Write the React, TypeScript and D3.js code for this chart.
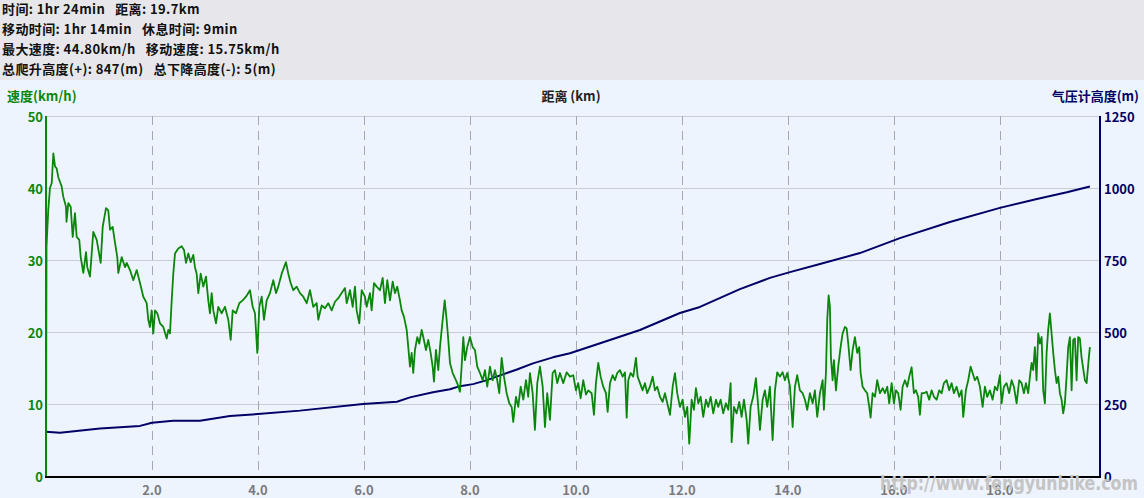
import React from 'react';
import * as d3 from 'd3';

// summary lines shown in the grey header band
const summaryLines = [
  '时间: 1hr 24min   距离: 19.7km',
  '移动时间: 1hr 14min   休息时间: 9min',
  '最大速度: 44.80km/h   移动速度: 15.75km/h',
  '总爬升高度(+): 847(m)   总下降高度(-): 5(m)',
];

// speed trace, km -> km/h
const speedKm = [
  0, 0.01, 0.043, 0.075, 0.108, 0.138, 0.17, 0.202, 0.232, 0.296, 0.326, 0.377, 0.387, 0.421, 0.466, 0.504, 0.547, 0.579, 0.628, 0.655,
  0.704, 0.755, 0.779, 0.83, 0.892, 0.957, 1.032, 1.07, 1.132, 1.175, 1.208, 1.258, 1.302, 1.345, 1.364, 1.428, 1.491, 1.523, 1.585, 1.647,
  1.711, 1.774, 1.836, 1.9, 1.93, 1.962, 1.994, 2.025, 2.057, 2.1, 2.151, 2.213, 2.277, 2.308, 2.34, 2.372, 2.402, 2.434, 2.496, 2.56,
  2.604, 2.642, 2.685, 2.73, 2.779, 2.811, 2.843, 2.874, 2.919, 2.968, 3.019, 3.062, 3.094, 3.126, 3.157, 3.208, 3.251, 3.315, 3.377, 3.44,
  3.485, 3.523, 3.585, 3.647, 3.711, 3.774, 3.849, 3.9, 3.943, 3.987, 4.025, 4.07, 4.113, 4.164, 4.226, 4.289, 4.34, 4.383, 4.447, 4.528,
  4.572, 4.617, 4.666, 4.73, 4.792, 4.855, 4.919, 4.981, 5.043, 5.108, 5.138, 5.202, 5.264, 5.326, 5.391, 5.453, 5.515, 5.579, 5.642, 5.674,
  5.736, 5.787, 5.83, 5.862, 5.911, 5.957, 6.019, 6.051, 6.113, 6.145, 6.189, 6.24, 6.302, 6.353, 6.396, 6.44, 6.491, 6.542, 6.585, 6.628,
  6.679, 6.711, 6.755, 6.806, 6.836, 6.868, 6.9, 6.93, 6.962, 7.006, 7.043, 7.089, 7.119, 7.17, 7.213, 7.258, 7.296, 7.321, 7.358, 7.402,
  7.434, 7.485, 7.523, 7.56, 7.591, 7.623, 7.674, 7.717, 7.76, 7.811, 7.843, 7.874, 7.906, 7.949, 8.0, 8.051, 8.094, 8.138, 8.189, 8.24,
  8.283, 8.326, 8.377, 8.428, 8.472, 8.515, 8.553, 8.598, 8.642, 8.692, 8.742, 8.787, 8.817, 8.868, 8.911, 8.957, 9.006, 9.057, 9.1, 9.132,
  9.183, 9.226, 9.27, 9.321, 9.372, 9.415, 9.458, 9.509, 9.56, 9.604, 9.647, 9.698, 9.76, 9.825, 9.887, 9.949, 10.0, 10.043, 10.089, 10.138,
  10.189, 10.232, 10.296, 10.34, 10.377, 10.421, 10.466, 10.515, 10.566, 10.598, 10.642, 10.692, 10.736, 10.779, 10.83, 10.881, 10.925, 10.957, 10.987, 11.032,
  11.081, 11.132, 11.164, 11.208, 11.258, 11.302, 11.345, 11.396, 11.447, 11.491, 11.534, 11.585, 11.636, 11.679, 11.723, 11.774, 11.825, 11.868, 11.911, 11.962,
  12.013, 12.057, 12.1, 12.138, 12.183, 12.226, 12.264, 12.308, 12.353, 12.402, 12.453, 12.496, 12.542, 12.591, 12.642, 12.685, 12.73, 12.779, 12.83, 12.874,
  12.919, 12.938, 12.981, 13.032, 13.081, 13.126, 13.17, 13.221, 13.251, 13.296, 13.345, 13.396, 13.44, 13.472, 13.523, 13.566, 13.609, 13.66, 13.711, 13.755,
  13.798, 13.849, 13.9, 13.943, 13.987, 14.038, 14.089, 14.132, 14.175, 14.226, 14.277, 14.321, 14.364, 14.415, 14.466, 14.509, 14.553, 14.604, 14.655, 14.679,
  14.717, 14.742, 14.768, 14.792, 14.811, 14.843, 14.868, 14.906, 14.949, 14.994, 15.032, 15.075, 15.108, 15.138, 15.183, 15.221, 15.264, 15.308, 15.345, 15.372,
  15.409, 15.453, 15.496, 15.534, 15.56, 15.598, 15.642, 15.685, 15.736, 15.787, 15.83, 15.874, 15.911, 15.957, 16.0, 16.038, 16.081, 16.126, 16.164, 16.208,
  16.251, 16.289, 16.334, 16.377, 16.415, 16.458, 16.491, 16.523, 16.566, 16.617, 16.666, 16.711, 16.755, 16.806, 16.855, 16.9, 16.943, 16.994, 17.043, 17.089,
  17.132, 17.183, 17.232, 17.277, 17.308, 17.358, 17.402, 17.447, 17.485, 17.528, 17.572, 17.623, 17.674, 17.717, 17.76, 17.811, 17.862, 17.906, 17.949, 18.0,
  18.032, 18.075, 18.126, 18.175, 18.221, 18.264, 18.315, 18.364, 18.409, 18.453, 18.491, 18.534, 18.566, 18.598, 18.628, 18.66, 18.691, 18.723, 18.755, 18.787,
  18.817, 18.849, 18.881, 18.911, 18.943, 18.975, 19.006, 19.038, 19.07, 19.1, 19.132, 19.164, 19.194, 19.226, 19.258, 19.289, 19.321, 19.353, 19.383, 19.415,
  19.447, 19.477, 19.509, 19.54, 19.566, 19.604, 19.636, 19.679, 19.698,
];
const speedKmh = [
  0, 31.9, 37, 40, 40.7, 44.8, 43, 42.7, 41.5, 40.2, 38.8, 37.4, 35.3, 37.9, 37.4, 33.2, 36.5, 33.2, 32.8, 30.4,
  28.2, 31.1, 29, 27.7, 33.9, 32.8, 29.6, 34.6, 37.2, 36.9, 34.2, 34.6, 32.4, 30.4, 28.2, 30.4, 29, 29.6, 28.6, 27.2,
  28.6, 26.8, 24.9, 24, 21.7, 20.7, 23, 19.8, 23, 22.6, 21.2, 20.7, 19.1, 20.3, 19.8, 24.4, 28.1, 30.9, 31.6, 31.9,
  31.4, 29.6, 30.9, 29.7, 30.7, 29, 28.1, 25.4, 28.1, 26.3, 27.7, 24.4, 22.6, 25.4, 23, 21.2, 23.5, 22.6, 23.5, 21.7,
  18.9, 23, 22.6, 24, 24.4, 24.9, 25.8, 23.5, 22.6, 17.1, 23.5, 24.9, 21.7, 24.4, 25.4, 27.2, 25.4, 26.3, 28.1, 29.7,
  28.1, 26.8, 25.8, 26.3, 25.4, 24.9, 24, 25.8, 23.5, 24, 21.7, 23.7, 23.3, 24, 23, 24.2, 24.7, 25.4, 26.1, 24,
  25.8, 23.5, 26.3, 23, 21.2, 25.8, 24.9, 23.5, 25.4, 23, 26.8, 26.3, 25.8, 27.5, 24, 27.2, 24.4, 27, 25.4, 26.3,
  24.4, 23, 22.1, 20.3, 17.9, 15.2, 17.1, 14.3, 17.5, 19.3, 18.4, 20.3, 19.3, 17.5, 18.9, 17.1, 15.2, 13.1, 17.5, 14.7,
  17.9, 21.7, 24.4, 21.7, 18.9, 15.7, 14.3, 13.6, 12.9, 11.7, 15.2, 19.3, 16.1, 17.9, 19.3, 17.9, 17.5, 15.2, 14.3, 13.3,
  14.7, 12.4, 15.2, 13.3, 14.7, 13.3, 11.5, 16.4, 13.8, 11.5, 10.1, 9.6, 7.5, 11, 9.6, 12.4, 10.6, 13.3, 11, 14.3,
  11.5, 6.4, 12.9, 15.2, 12.4, 6.8, 11.5, 7.8, 14.3, 14.7, 12.9, 14.3, 12.9, 14.4, 13.8, 14, 11.9, 12.9, 10.8, 13.3,
  11.3, 11.9, 11.5, 8.5, 12.9, 15.7, 13.8, 12.4, 11.5, 8.9, 12.9, 14, 13.3, 14.3, 14.7, 13.8, 14.4, 8.1, 13.3, 14.3,
  13.8, 16.4, 13.8, 12.9, 11.9, 12.9, 11.5, 12.4, 13.8, 11.9, 12.4, 11, 10.3, 11.5, 10.1, 8.5, 12.4, 14.3, 11.5, 9.6,
  10.6, 8.2, 9.6, 4.5, 10.6, 9.2, 12.2, 10.1, 11, 8.2, 10.6, 9.6, 11, 8.7, 10.6, 9.6, 10.6, 8.7, 10.1, 9.2,
  12.9, 4.7, 9.6, 8.7, 10.3, 8.2, 10.6, 7.8, 4.5, 9.6, 11, 13.6, 9.6, 6.4, 10.6, 11.9, 9.6, 12.4, 5, 11.9,
  14.4, 13.8, 14.4, 13.3, 14.3, 12.4, 6.8, 12.4, 14, 11.9, 11.5, 10.6, 9.2, 11.5, 10.1, 11.9, 8.2, 11.5, 13.3, 9.2,
  14.3, 21.7, 25.1, 23.5, 16.5, 13.3, 16.1, 11.9, 15.2, 17.9, 19.8, 20.7, 20.5, 18.4, 14.7, 17.5, 19.3, 17.1, 17.9, 14.3,
  12.4, 11.9, 11.5, 9.6, 8.1, 11.5, 11, 13.3, 11.5, 12.2, 11.5, 12.4, 10.1, 12.9, 10.1, 11.9, 11.5, 9.2, 12.4, 13.3,
  12.4, 13.8, 15.1, 11.5, 11.9, 11, 8.5, 11.5, 11.5, 11.7, 10.6, 11.9, 11, 10.6, 11.9, 11.5, 12.9, 13.3, 11.9, 12.9,
  11.5, 12.4, 11, 11.9, 8.2, 11.9, 13.3, 15.2, 14.3, 13.3, 13.8, 12.4, 9.6, 12.4, 11, 11.9, 10.6, 12.4, 11.9, 14,
  10.1, 12.4, 12.9, 11.5, 13.3, 12.4, 10.1, 13.3, 12.9, 11.5, 12.9, 11.5, 13.8, 15.7, 14.7, 17.9, 13.3, 19.8, 18.4, 19.3,
  11.9, 10.1, 17.1, 20.3, 22.6, 19.8, 17.1, 14.7, 12.9, 13.8, 11.5, 10.6, 8.7, 10.1, 13.8, 17.9, 19.3, 11.9, 18.9, 19.1,
  13.3, 19.3, 19.1, 16.5, 15.2, 13.3, 12.9, 16.5, 17.9,
];

// barometric altitude trace, km -> m
const altKm = [0, 0.264, 1.019, 1.774, 2.0, 2.396, 2.906, 3.472, 4.0, 4.792, 5.981, 6.623, 6.868, 7.302, 7.623, 7.811, 8.057, 8.321, 8.623, 8.887,
  9.189, 9.566, 9.887, 10.642, 11.208, 11.962, 12.34, 13.094, 13.66, 14.038, 14.604, 15.358, 16.113, 17.057, 18.0, 18.698, 19.264, 19.698];
const altM = [154, 150, 165, 174, 185, 192, 192, 208, 215, 227, 250, 258, 273, 291, 301, 312, 319, 333, 353, 370,
  391, 412, 426, 472, 507, 566, 587, 649, 688, 708, 736, 774, 826, 882, 931, 962, 985, 1005];

const xTicks = [2, 4, 6, 8, 10, 12, 14, 16, 18];
const speedTicks = [0, 10, 20, 30, 40, 50];
const altTicks = [0, 250, 500, 750, 1000, 1250];

const W = 1144;
const H = 498;
const PLOT = { left: 46, right: 1090, axisRight: 1100, top: 116, bottom: 476 };
const GREEN = '#0a870a';
const NAVY = '#000066';
const FONT = "'Noto Sans CJK SC', 'DejaVu Sans', sans-serif";

export default function App() {
  const x = d3.scaleLinear().domain([0, 19.7]).range([PLOT.left, PLOT.right]);
  const ySpeed = d3.scaleLinear().domain([0, 50]).range([PLOT.bottom, PLOT.top]);
  const yAlt = d3.scaleLinear().domain([0, 1250]).range([PLOT.bottom, PLOT.top]);

  const speedPath = d3.line<number>()
    .x((_, i) => x(speedKm[i]))
    .y((d) => ySpeed(d))(speedKmh) ?? '';
  const altPath = d3.line<number>()
    .x((_, i) => x(altKm[i]))
    .y((d) => yAlt(d))(altM) ?? '';

  return (
    <svg width={W} height={H} style={{ position: 'absolute', left: 0, top: 0, display: 'block' }}
      fontFamily={FONT}>
      <rect x={0} y={0} width={W} height={H} fill="#eef4fd" />
      <rect x={0} y={0} width={W} height={80} fill="#e7e7eb" />
      {summaryLines.map((s, i) => (
        <text key={i} x={2} y={[8, 28, 48, 68][i]} dominantBaseline="central" fontSize={13}
          letterSpacing={0.4} fontWeight="bold" fill="#111" xmlSpace="preserve">{s}</text>
      ))}

      {/* axis titles */}
      <text x={7} y={95} dominantBaseline="central" fontSize={13} fontWeight="bold" fill={GREEN}>速度(km/h)</text>
      <text x={571} y={95} dominantBaseline="central" textAnchor="middle" fontSize={13} fontWeight="bold" fill="#222">距离 (km)</text>
      <text x={1139} y={95} dominantBaseline="central" textAnchor="end" fontSize={13} fontWeight="bold" fill={NAVY}>气压计高度(m)</text>

      {/* grid */}
      {speedTicks.filter((t) => t > 0).map((t) => (
        <line key={'h' + t} x1={PLOT.left} x2={PLOT.axisRight} y1={ySpeed(t) + 0.5} y2={ySpeed(t) + 0.5}
          stroke="#c9cdd6" strokeWidth={1} />
      ))}
      {xTicks.map((t) => (
        <line key={'v' + t} x1={Math.round(x(t)) + 0.5} x2={Math.round(x(t)) + 0.5} y1={PLOT.top} y2={PLOT.bottom}
          stroke="#a4a8b4" strokeWidth={1} strokeDasharray="9,6" />
      ))}

      {/* series */}
      <path d={altPath} fill="none" stroke={NAVY} strokeWidth={2} strokeLinejoin="round" />
      <path d={speedPath} fill="none" stroke={GREEN} strokeWidth={1.8} strokeLinejoin="round" />

      {/* axes */}
      <line x1={PLOT.left} x2={PLOT.left} y1={PLOT.top} y2={PLOT.bottom} stroke={GREEN} strokeWidth={2} />
      <line x1={PLOT.axisRight} x2={PLOT.axisRight} y1={PLOT.top} y2={PLOT.bottom} stroke={NAVY} strokeWidth={2} />
      <line x1={PLOT.left - 1} x2={PLOT.axisRight + 1} y1={PLOT.bottom + 1} y2={PLOT.bottom + 1} stroke="#000" strokeWidth={2} />

      {speedTicks.map((t) => (
        <text key={'sl' + t} x={43} y={ySpeed(t)} dominantBaseline="central" textAnchor="end"
          fontSize={13} fontWeight="bold" fill={GREEN}>{t}</text>
      ))}
      {altTicks.map((t) => (
        <text key={'al' + t} x={1104} y={yAlt(t)} dominantBaseline="central"
          fontSize={13} fontWeight="bold" fill={NAVY}>{t}</text>
      ))}
      {xTicks.map((t) => (
        <text key={'xl' + t} x={x(t)} y={489} dominantBaseline="central" textAnchor="middle"
          fontSize={13} fontWeight="bold" fill="#7a7a80">{t.toFixed(1)}</text>
      ))}

      {/* watermark */}
      <text x={880} y={483} dominantBaseline="central" fontSize={20} fontWeight="bold" fill="#c4c4c4"
        fontFamily="'Liberation Sans Narrow', 'DejaVu Sans Condensed', sans-serif"
        textLength={258} lengthAdjust="spacingAndGlyphs">http://www.fengyunbike.com</text>
    </svg>
  );
}
